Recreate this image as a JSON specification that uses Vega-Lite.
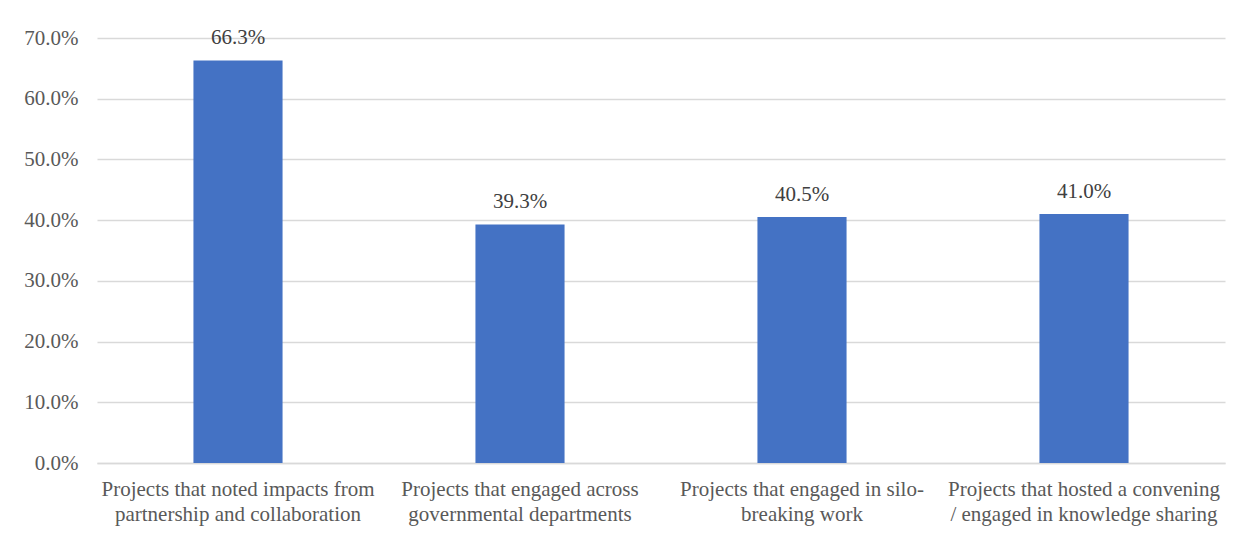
{
  "$schema": "https://vega.github.io/schema/vega-lite/v6.json",
  "autosize": {"type": "none"},
  "width": 1128,
  "height": 425,
  "padding": {"left": 97, "top": 38, "right": 25, "bottom": 74},
  "background": "white",
  "config": {"view": {"stroke": null}, "font": "Times New Roman, Liberation Serif, serif"},
  "data": {
    "values": [
      {"category": "Projects that noted impacts from|partnership and collaboration", "value": 0.663},
      {"category": "Projects that engaged across|governmental departments", "value": 0.393},
      {"category": "Projects that engaged in silo-|breaking work", "value": 0.405},
      {"category": "Projects that hosted a convening|/ engaged in knowledge sharing", "value": 0.41}
    ]
  },
  "encoding": {
    "x": {
      "field": "category",
      "type": "nominal",
      "sort": null,
      "scale": {"paddingInner": 0.684, "paddingOuter": 0.342},
      "axis": {
        "title": null,
        "labelAngle": 0,
        "labelExpr": "split(datum.label, '|')",
        "labelFont": "Times New Roman, Liberation Serif, serif",
        "labelFontSize": 21,
        "labelColor": "#595959",
        "labelLineHeight": 25,
        "labelPadding": 15,
        "labelLimit": 400,
        "ticks": false,
        "domainColor": "#d9d9d9",
        "domainWidth": 1.5
      }
    },
    "y": {
      "field": "value",
      "type": "quantitative",
      "scale": {"domain": [0, 0.7], "nice": false},
      "axis": {
        "title": null,
        "values": [0, 0.1, 0.2, 0.3, 0.4, 0.5, 0.6, 0.7],
        "format": ".1%",
        "labelFont": "Times New Roman, Liberation Serif, serif",
        "labelFontSize": 21,
        "labelColor": "#595959",
        "labelPadding": 19,
        "ticks": false,
        "domain": false,
        "gridColor": "#d9d9d9",
        "gridWidth": 1.5
      }
    }
  },
  "layer": [
    {"mark": {"type": "bar", "color": "#4472C4"}},
    {
      "mark": {"type": "text", "baseline": "bottom", "dy": -12, "font": "Times New Roman, Liberation Serif, serif", "fontSize": 21, "color": "#404040"},
      "encoding": {"text": {"field": "value", "type": "quantitative", "format": ".1%"}}
    }
  ]
}
